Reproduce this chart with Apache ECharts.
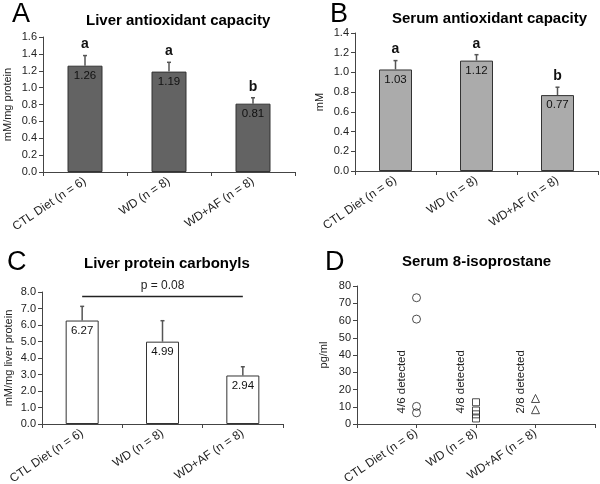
<!DOCTYPE html>
<html>
<head>
<meta charset="utf-8">
<script src="https://cdn.jsdelivr.net/npm/echarts@6/dist/echarts.min.js"></script>
<style>
  html, body { margin: 0; padding: 0; background: #fff; }
  #chart { width: 600px; height: 484px; }
</style>
</head>
<body>
<div id="chart"></div>
<script>
var FONT = "'Liberation Sans', Arial, sans-serif";

// groups
var categories = ['CTL Diet (n = 6)', 'WD (n = 8)', 'WD+AF (n = 8)'];

// A - liver antioxidant capacity (mM/mg protein)
var liverCap = [1.26, 1.19, 0.81];
var liverCapErr = [0.12, 0.11, 0.07];
var liverCapLetters = ['a', 'a', 'b'];

// B - serum antioxidant capacity (mM)
var serumCap = [1.03, 1.12, 0.77];
var serumCapErr = [0.09, 0.06, 0.08];
var serumCapLetters = ['a', 'a', 'b'];

// C - liver protein carbonyls (mM/mg liver protein)
var carbonyls = [6.27, 4.99, 2.94];
var carbonylsErr = [0.86, 1.27, 0.53];
var pValueText = 'p = 0.08';
var pLineY = 7.75;

// D - serum 8-isoprostane (pg/ml), detected samples only
var isoCTL = [73.2, 60.8, 10.2, 6.5];
var isoWD = [12.6, 7.8, 5.6, 3.2];
var isoAF = [14.8, 8.3];
var detectedText = ['4/6 detected', '4/8 detected', '2/8 detected'];
var detectedY = 24.5;

var axisColor = '#444';
var textColor = '#222';
var labelRotate = 34;

function yAxis(grid, max, interval, name, gap, digits) {
  return {
    type: 'value', gridIndex: grid, min: 0, max: max, interval: interval,
    name: name, nameLocation: 'middle', nameGap: gap,
    nameTextStyle: { fontFamily: FONT, fontSize: 11, color: textColor },
    axisLine: { show: true, lineStyle: { color: axisColor, width: 1 } },
    axisTick: { show: true, length: 4, lineStyle: { color: axisColor } },
    axisLabel: {
      fontFamily: FONT, fontSize: 11, color: textColor, margin: 6,
      formatter: function (v) { return v.toFixed(digits); }
    },
    splitLine: { show: false }
  };
}

function xAxis(grid, data, boundaryGap) {
  return {
    type: 'category', gridIndex: grid, data: data, boundaryGap: boundaryGap,
    axisLine: { show: true, lineStyle: { color: axisColor, width: 1 } },
    axisTick: { show: true, length: 4, alignWithLabel: false, lineStyle: { color: axisColor } },
    axisLabel: { fontFamily: FONT, fontSize: 12, color: textColor, rotate: labelRotate, margin: 8, interval: 0 },
    splitLine: { show: false }
  };
}

function barSeries(grid, vals, fill, width) {
  return {
    type: 'bar', xAxisIndex: grid, yAxisIndex: grid, data: vals, barWidth: width,
    itemStyle: { color: fill, borderColor: '#333', borderWidth: 1 },
    label: {
      show: true, position: 'insideTop', distance: 4,
      fontFamily: FONT, fontSize: 11.5, color: '#111',
      formatter: function (p) { return p.value.toFixed(2); }
    },
    silent: true
  };
}

function errorSeries(grid, vals, errs, letters) {
  return {
    type: 'custom', xAxisIndex: grid, yAxisIndex: grid, z: 5, silent: true,
    data: vals.map(function (v, i) { return [i, v, v + errs[i]]; }),
    renderItem: function (params, api) {
      var base = api.coord([api.value(0), api.value(1)]);
      var top = api.coord([api.value(0), api.value(2)]);
      var kids = [
        { type: 'line', shape: { x1: base[0], y1: base[1], x2: top[0], y2: top[1] },
          style: { stroke: '#555', lineWidth: 1.5 } },
        { type: 'line', shape: { x1: top[0] - 2, y1: top[1], x2: top[0] + 2, y2: top[1] },
          style: { stroke: '#555', lineWidth: 1.5 } }
      ];
      if (letters) {
        kids.push({ type: 'text', x: top[0], y: top[1] - 4,
          style: { text: letters[params.dataIndex], align: 'center', verticalAlign: 'bottom',
            font: 'bold 14px ' + FONT, fill: '#111' } });
      }
      return { type: 'group', children: kids };
    }
  };
}

function scatterSeries(pos, vals, symbol, size) {
  return {
    type: 'scatter', xAxisIndex: 3, yAxisIndex: 3, symbol: symbol, symbolSize: size,
    data: vals.map(function (v) { return [pos, v]; }),
    itemStyle: { color: 'rgba(0,0,0,0)', borderColor: '#222', borderWidth: 1 },
    silent: true
  };
}

function panelTitle(letter, lx, ly, text, tx, ty) {
  return [
    { text: letter, left: lx, top: ly, padding: 0,
      textStyle: { fontFamily: FONT, fontSize: 27, fontWeight: 'normal', color: '#000' } },
    { text: text, left: tx, top: ty, padding: 0,
      textStyle: { fontFamily: FONT, fontSize: 15, fontWeight: 'bold', color: '#000' } }
  ];
}

var chart = echarts.init(document.getElementById('chart'), null, { renderer: 'canvas' });

var option = {
  backgroundColor: '#fff',
  animation: false,
  title: [].concat(
    panelTitle('A', 12, 1, 'Liver antioxidant capacity', 86, 13),
    panelTitle('B', 330, 1, 'Serum antioxidant capacity', 392, 11),
    panelTitle('C', 7, 249, 'Liver protein carbonyls', 84, 256),
    panelTitle('D', 325, 249, 'Serum 8-isoprostane', 402, 254)
  ),
  grid: [
    { left: 43, top: 37, width: 252, height: 135, outerBoundsMode: 'none' },
    { left: 355, top: 33, width: 243, height: 138, outerBoundsMode: 'none' },
    { left: 42, top: 292, width: 241, height: 132, outerBoundsMode: 'none' },
    { left: 357, top: 286, width: 238, height: 138, outerBoundsMode: 'none' }
  ],
  xAxis: [
    xAxis(0, categories, true),
    xAxis(1, categories, true),
    xAxis(2, categories, true),
    xAxis(3, [''].concat(categories, ['']), false)
  ],
  yAxis: [
    yAxis(0, 1.6, 0.2, 'mM/mg protein', 30, 1),
    yAxis(1, 1.4, 0.2, 'mM', 30, 1),
    yAxis(2, 8, 1, 'mM/mg liver protein', 28, 1),
    yAxis(3, 80, 10, 'pg/ml', 28, 0)
  ],
  series: [
    barSeries(0, liverCap, '#636363', 35),
    errorSeries(0, liverCap, liverCapErr, liverCapLetters),
    barSeries(1, serumCap, '#ababab', 33),
    errorSeries(1, serumCap, serumCapErr, serumCapLetters),
    Object.assign(barSeries(2, carbonyls, '#ffffff', 33), {
      markLine: {
        silent: true, symbol: 'none',
        lineStyle: { color: '#222', width: 1.3, type: 'solid' },
        label: { show: true, position: 'insideMiddleTop', formatter: pValueText,
          fontFamily: FONT, fontSize: 12, color: textColor, distance: 4 },
        data: [[{ coord: [0, pLineY] }, { coord: [2, pLineY] }]]
      }
    }),
    errorSeries(2, carbonyls, carbonylsErr, null),
    scatterSeries(1, isoCTL, 'circle', 8),
    scatterSeries(2, isoWD, 'rect', 7),
    scatterSeries(3, isoAF, 'triangle', 8),
    {
      type: 'custom', xAxisIndex: 3, yAxisIndex: 3, silent: true,
      data: detectedText.map(function (t, i) { return [i + 1, detectedY]; }),
      renderItem: function (params, api) {
        var p = api.coord([api.value(0), api.value(1)]);
        return { type: 'text', x: p[0] - 15, y: p[1], rotation: Math.PI / 2,
          style: { text: detectedText[params.dataIndex], align: 'center', verticalAlign: 'middle',
            font: '11.5px ' + FONT, fill: textColor } };
      }
    }
  ]
};

chart.setOption(option);
</script>
</body>
</html>
